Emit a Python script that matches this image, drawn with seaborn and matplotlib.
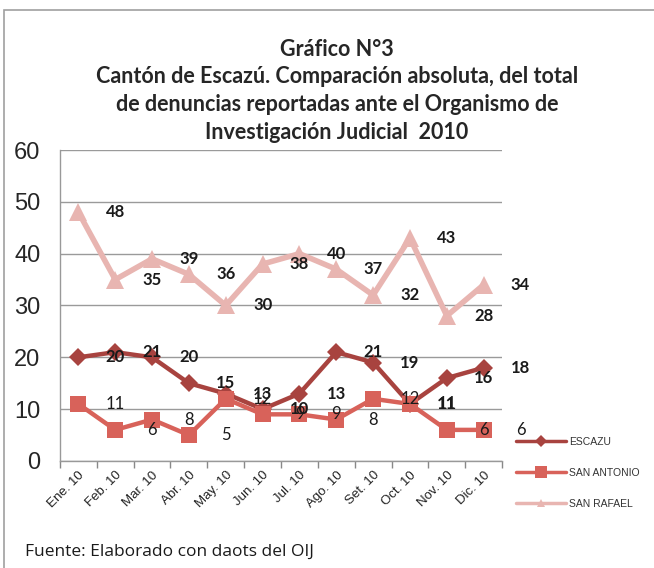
#%% libraries
import numpy as np
import pandas as pd
import seaborn as sns
import matplotlib.pyplot as plt
from matplotlib.lines import Line2D
from matplotlib.patches import Rectangle

#%% data
months = ['Ene. 10', 'Feb. 10', 'Mar. 10', 'Abr. 10', 'May. 10', 'Jun. 10',
          'Jul. 10', 'Ago. 10', 'Set. 10', 'Oct. 10', 'Nov. 10', 'Dic. 10']
escazu = [20, 21, 20, 15, 13, 10, 13, 21, 19, 11, 16, 18]
san_antonio = [11, 6, 8, 5, 12, 9, 9, 8, 12, 11, 6, 6]
san_rafael = [48, 35, 39, 36, 30, 38, 40, 37, 32, 43, 28, 34]

series_names = ['ESCAZU', 'SAN ANTONIO', 'SAN RAFAEL']
series_vals = [escazu, san_antonio, san_rafael]

rows = []
for name, vals in zip(series_names, series_vals):
    for i, v in enumerate(vals):
        rows.append({'serie': name, 'mes': i, 'denuncias': v})
da = pd.DataFrame(rows)

#%% style
sns.set_style("white")
plt.rcParams['font.family'] = ['Liberation Sans', 'DejaVu Sans']

colors = {'ESCAZU': '#A8433F', 'SAN ANTONIO': '#D8625A', 'SAN RAFAEL': '#E8B5B1'}
markers = {'ESCAZU': 'D', 'SAN ANTONIO': 's', 'SAN RAFAEL': '^'}
msize = {'ESCAZU': 9, 'SAN ANTONIO': 12, 'SAN RAFAEL': 13}
lwidth = {'ESCAZU': 3.2, 'SAN ANTONIO': 3.2, 'SAN RAFAEL': 4.0}
lbl_weight = {'ESCAZU': 'bold', 'SAN ANTONIO': 'normal', 'SAN RAFAEL': 'bold'}

fig = plt.figure(figsize=(6.54, 5.68), dpi=100)
ax = fig.add_axes([0.0917, 0.1884, 0.676, 0.5475])

# draw order: rafael behind, then escazu, then san antonio
for name in ['SAN RAFAEL', 'ESCAZU', 'SAN ANTONIO']:
    sub = da[da['serie'] == name]
    sns.lineplot(data=sub, x='mes', y='denuncias', ax=ax, color=colors[name],
                 marker=markers[name], markersize=msize[name], markeredgewidth=0,
                 linewidth=lwidth[name], label=name, legend=False)
    # excel-style data labels, shifted one category to the right
    for i, v in zip(sub['mes'], sub['denuncias']):
        ax.text(i + 1, v, str(v), ha='center', va='center', fontsize=12,
                fontweight=lbl_weight[name], color='#1a1a1a', clip_on=False,
                family=['Lato', 'DejaVu Sans'])

ax.set_xlim(-0.5, 11.5)
ax.set_ylim(0, 60)
ax.set_yticks(np.arange(0, 61, 10))
ax.set_xticks(range(12))
ax.set_xticklabels(months, rotation=45, ha='right', rotation_mode='anchor',
                   fontsize=9.5, color='#222222')
ax.set_xticks(np.arange(-0.5, 12, 1), minor=True)
ax.tick_params(axis='x', which='major', length=0, pad=6)
ax.tick_params(axis='x', which='minor', length=5, color='#888888', width=1, direction='out')
ax.tick_params(axis='y', which='major', length=5, color='#888888', width=1,
               direction='out', labelsize=17, pad=9)
ax.xaxis.set_tick_params(bottom=True, which='minor')
ax.set_xlabel('')
ax.set_ylabel('')
ax.grid(axis='y', color='#9a9a9a', linewidth=1)
ax.set_axisbelow(True)
for s in ['top', 'right']:
    ax.spines[s].set_visible(False)
for s in ['left', 'bottom']:
    ax.spines[s].set_color('#999999')
    ax.spines[s].set_linewidth(1)

#%% title
fig.text(0.515, 0.932, 'Gráfico N°3\nCantón de Escazú. Comparación absoluta, del total\n'
         'de denuncias reportadas ante el Organismo de\nInvestigación Judicial  2010',
         ha='center', va='top', fontsize=15.5, fontweight='bold', linespacing=1.4,
         family=['Lato', 'DejaVu Sans'])

#%% legend
handles = [Line2D([], [], color=colors[n], marker=markers[n], markeredgewidth=0,
                  markersize={'ESCAZU': 6, 'SAN ANTONIO': 8, 'SAN RAFAEL': 6}[n],
                  linewidth=2.5) for n in series_names]
leg = fig.legend(handles, series_names, loc='upper left',
                 bbox_to_anchor=(0.775, 0.247), frameon=False, fontsize=7.5,
                 handlelength=4.8, labelspacing=2.0, handletextpad=0.25)
for t in leg.get_texts():
    t.set_color('#333333')

#%% footer and border
fig.text(0.038, 0.022, 'Fuente: Elaborado con daots del OIJ', fontsize=12.5,
         color='#1a1a1a', family=['Open Sans', 'DejaVu Sans'])
fig.patches.append(Rectangle((0.006, -0.1), 1.2, 1.083, transform=fig.transFigure,
                             fill=False, edgecolor='#a0a0a0', linewidth=1.2))

plt.savefig('out.png', dpi=100)
